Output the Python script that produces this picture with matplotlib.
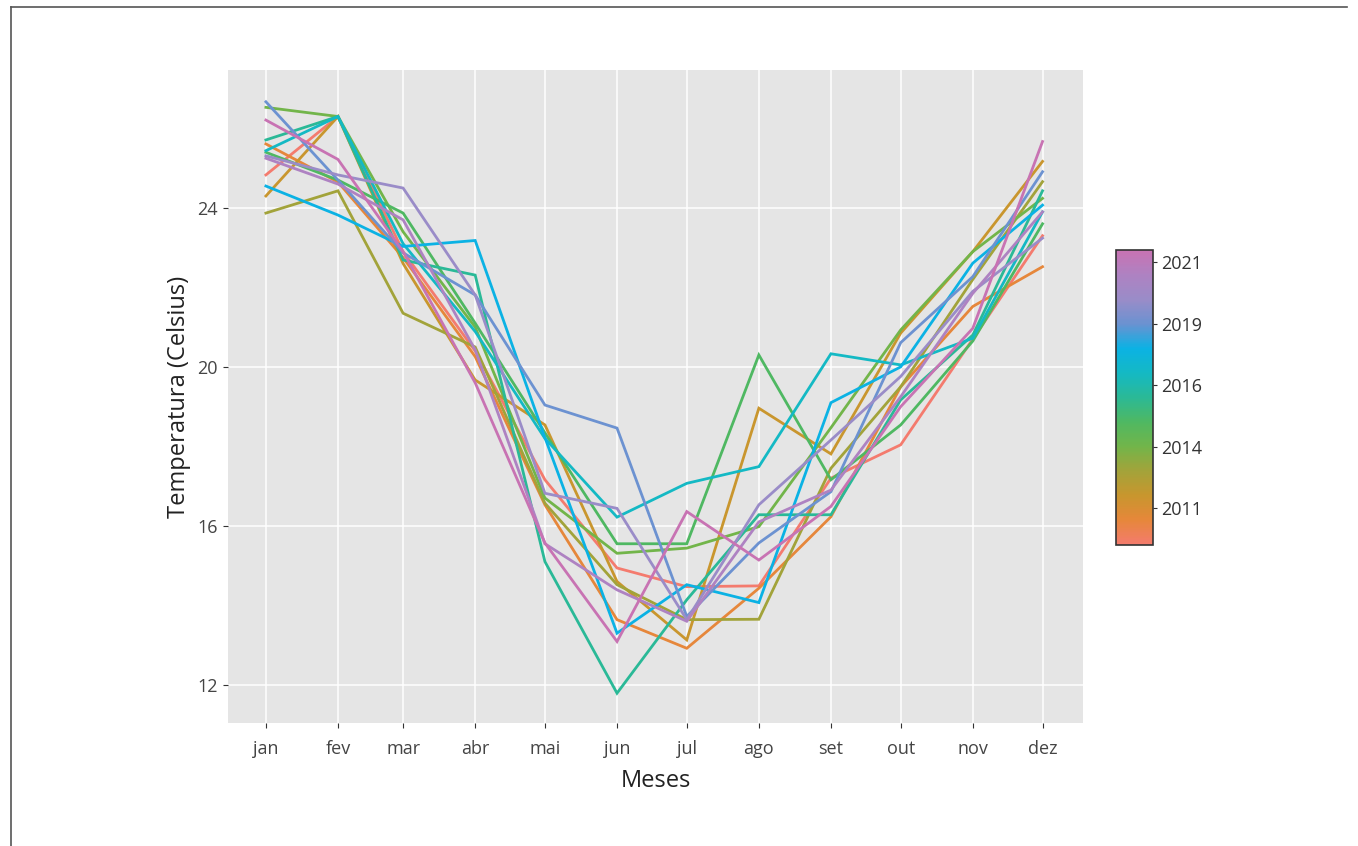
import matplotlib
matplotlib.use("Agg")
import matplotlib.pyplot as plt
import matplotlib.colors as mcolors
from matplotlib.lines import Line2D
import numpy as np
import pandas as pd

plt.rcParams['font.family'] = ['Open Sans', 'DejaVu Sans']

# ---------------- data ----------------
months = ['jan', 'fev', 'mar', 'abr', 'mai', 'jun', 'jul', 'ago', 'set', 'out', 'nov', 'dez']
month_dates = pd.date_range('2021-01-01', periods=12, freq='MS')
years = [2009, 2010, 2011, 2012, 2013, 2014, 2015, 2016, 2017, 2018, 2019, 2020, 2021]

t2009 = [24.83, 26.30, 22.90, 20.40, 17.16, 14.94, 14.47, 14.49, 17.20, 18.04, 20.70, 23.30]
t2010 = [25.61, 24.65, 22.75, 20.26, 16.53, 13.64, 12.92, 14.43, 16.23, 19.50, 21.52, 22.52]
t2011 = [24.30, 26.30, 22.60, 19.67, 18.54, 14.60, 13.13, 18.96, 17.81, 20.85, 22.90, 25.17]
t2012 = [23.87, 24.43, 21.35, 20.50, 16.57, 14.52, 13.64, 13.65, 17.45, 19.50, 22.20, 24.66]
t2013 = [26.53, 26.30, 23.40, 21.00, 16.70, 15.31, 15.44, 15.98, 18.47, 20.93, 22.90, 24.24]
t2014 = [25.40, 24.70, 23.87, 21.10, 18.34, 15.55, 15.55, 20.30, 17.16, 18.54, 20.65, 23.60]
t2015 = [25.71, 26.30, 22.69, 22.31, 15.10, 11.79, 14.14, 16.28, 16.28, 19.17, 20.80, 24.43]
t2016 = [25.44, 26.30, 23.10, 20.89, 18.20, 16.22, 17.07, 17.49, 20.33, 20.05, 20.72, 23.90]
t2017 = [24.55, 23.82, 23.03, 23.18, 18.22, 13.30, 14.52, 14.07, 19.10, 20.00, 22.61, 24.07]
t2018 = [26.67, 24.70, 22.87, 21.81, 19.04, 18.46, 13.72, 15.57, 16.86, 20.61, 22.27, 24.91]
t2019 = [25.31, 24.83, 24.50, 21.81, 16.82, 16.44, 13.64, 16.53, 18.16, 19.76, 21.90, 23.24]
t2020 = [25.25, 24.60, 23.70, 20.43, 15.55, 14.39, 13.60, 16.10, 16.90, 19.25, 21.85, 23.90]
t2021 = [26.21, 25.22, 22.90, 19.60, 15.57, 13.09, 16.36, 15.14, 16.49, 19.00, 20.97, 25.67]
series = [t2009, t2010, t2011, t2012, t2013, t2014, t2015, t2016, t2017, t2018, t2019, t2020, t2021]

cbar_ticks = [2011, 2013.5, 2016, 2018.5, 2021]
y_ticks = [12, 16, 20, 24]

# ---------------- style ----------------
stops = ['#F47B6E', '#E6873A', '#C8962E', '#A3A33A', '#72B54A', '#4FB862',
         '#2BB996', '#14B9C4', '#0BB2E4', '#6A92D1', '#9A8CC8', '#AE82C2', '#C873B3']
cmap = mcolors.LinearSegmentedColormap.from_list('hue', stops)

W, H = 1358, 846
fig = plt.figure(figsize=(W / 100, H / 100), dpi=100)
fig.patch.set_facecolor('white')

ax = fig.add_axes([228 / W, 1 - 723 / H, (1083 - 228) / W, (723 - 70) / H])
ax.set_facecolor('#E5E5E5')

for i, (yr, vals) in enumerate(zip(years, series)):
    ax.plot(month_dates, vals, color=cmap(i / (len(years) - 1)), lw=2.0,
            solid_joinstyle='miter', zorder=3)

ax.set_xlim(month_dates[0] - pd.Timedelta(days=16.3), month_dates[-1] + pd.Timedelta(days=17.4))
ax.set_ylim(11.04, 27.47)
ax.set_xticks(month_dates)
ax.set_xticklabels(months)
ax.set_yticks(y_ticks)
ax.grid(True, color='white', lw=1.1, zorder=0)
ax.set_axisbelow(True)
for s in ax.spines.values():
    s.set_visible(False)
ax.tick_params(axis='both', length=3.5, width=0.8, color='#333333',
               labelcolor='#444444', labelsize=13, pad=4)
ax.tick_params(axis='x', pad=9)
ax.set_xlabel('Meses', fontsize=17, color='#222222', labelpad=8)
ax.set_ylabel('Temperatura (Celsius)', fontsize=17, color='#222222', labelpad=4)

# colorbar
cax = fig.add_axes([1116 / W, 1 - 545 / H, 37 / W, 295 / H])
norm = mcolors.Normalize(vmin=2009.5, vmax=2021.5)
sm = plt.cm.ScalarMappable(norm=norm, cmap=cmap)
cb = fig.colorbar(sm, cax=cax)
cb.set_ticks(cbar_ticks)
cb.set_ticklabels([str(int(t + 0.5)) for t in cbar_ticks])
cb.outline.set_edgecolor('#333333')
cb.outline.set_linewidth(1.2)
cax.tick_params(length=3, width=0.8, color='#333333', labelcolor='#333333', labelsize=13, pad=3)

# figure border
fig.add_artist(Line2D([11 / W, 11 / W], [0, 1 - 7 / H], color='#555555', lw=1.2))
fig.add_artist(Line2D([11 / W, 1347 / W], [1 - 7 / H, 1 - 7 / H], color='#555555', lw=1.2))

fig.savefig('out.png', dpi=100)
